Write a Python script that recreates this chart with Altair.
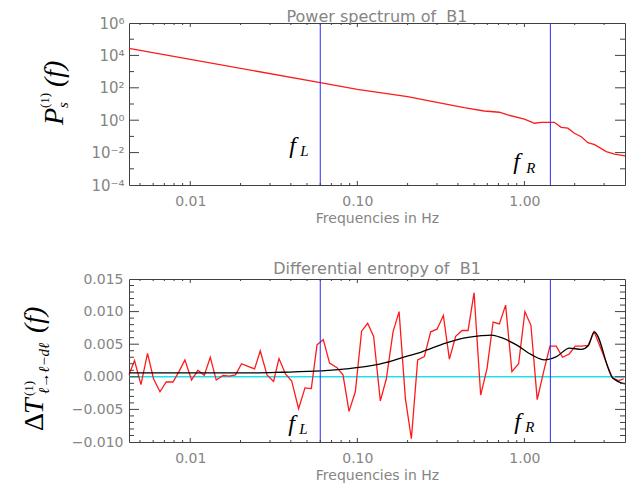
import altair as alt
import pandas as pd

# ---------------- data ----------------
# Top panel: power spectrum of B1
ps_freq = [0.0043, 0.0600, 0.100, 0.200, 0.305, 0.436, 0.575, 0.708, 0.795, 1.00, 1.15,
           1.26, 1.51, 1.66, 1.82, 1.99, 2.19, 2.40, 2.63, 3.09, 3.47, 4.00]
ps_power = [27500, 209, 81, 28.2, 12.0, 5.9, 3.7, 3.1, 2.1, 1.17, 0.65,
            0.74, 0.74, 0.36, 0.32, 0.155, 0.095, 0.041, 0.031, 0.0115, 0.0081, 0.0063]

# Bottom panel: differential entropy (red, raw)
de_freq = [0.00430, 0.00464, 0.00507, 0.00555, 0.00603, 0.00659, 0.00718, 0.00788, 0.00856, 0.00929,
           0.01018, 0.01112, 0.01213, 0.01318, 0.01431, 0.01570, 0.01712, 0.01867, 0.02028, 0.02216,
           0.02427, 0.02625, 0.02879, 0.03153, 0.03397, 0.03721, 0.04043, 0.04451, 0.04861, 0.05304,
           0.05737, 0.06256, 0.06823, 0.07555, 0.08208, 0.08919, 0.09727, 0.1061, 0.1153, 0.1252,
           0.1373, 0.1492, 0.1636, 0.1778, 0.1939, 0.2106, 0.2297, 0.2519, 0.2748, 0.3000,
           0.3273, 0.3556, 0.3879, 0.4236, 0.4601, 0.4997, 0.5473, 0.5977, 0.6496, 0.7084,
           0.7717, 0.8417, 0.9232, 1.007, 1.094, 1.193, 1.309, 1.422, 1.550, 1.693,
           1.855, 2.015, 2.194, 2.400, 2.615, 2.852, 3.098, 3.364, 3.670, 3.93]
de_value = [0.0003, 0.0025, -0.0012, 0.0036, -0.0003, -0.0023, -0.0008, -0.0008, 0.0008, 0.0026,
            -0.0005, 0.0010, 0.0002, 0.0030, -0.0005, 0.0002, 0.0001, 0.0003, 0.0020, 0.0016,
            0.0012, 0.0040, 0.0003, -0.0007, 0.0028, 0.0004, -0.0006, -0.0049, -0.0017, -0.0018,
            0.0049, 0.0057, 0.0021, 0.0014, 0.0003, -0.0053, -0.0023, 0.0070, 0.0082, 0.0062,
            -0.0037, -0.0003, 0.0069, 0.0100, -0.0033, -0.0095, 0.0026, 0.0031, 0.0069, 0.0073,
            0.0094, 0.0027, 0.0062, 0.0071, 0.0071, 0.0129, -0.0028, 0.0013, 0.0084, 0.0081,
            0.0110, 0.0008, 0.0020, 0.0100, 0.0079, -0.0035, 0.0010, 0.0047, 0.0047, 0.0030,
            0.0035, 0.0047, 0.0047, 0.0048, 0.0069, 0.0045, 0.0021, -0.0002, -0.0006, -0.0003]

# Bottom panel: smoothed curve (black)
sm_freq = [0.0043, 0.0116, 0.0216, 0.0351, 0.0609, 0.0859, 0.1213, 0.1492, 0.1835, 0.2416,
           0.3411, 0.4495, 0.5527, 0.6345, 0.7283, 0.8957, 1.101, 1.318, 1.555, 1.860,
           2.194, 2.417, 2.615, 3.364, 4.0]
sm_value = [0.0006, 0.0006, 0.0006, 0.0007, 0.0009, 0.0012, 0.0017, 0.0022, 0.0029, 0.0038,
            0.0052, 0.0060, 0.0063, 0.0064, 0.0060, 0.0049, 0.0034, 0.0026, 0.0031, 0.0044,
            0.0042, 0.0048, 0.0069, -0.0001, -0.0011]

F_L = 0.060
F_R = 1.43
zero_level = [0.0]

x_labels = [0.01, 0.1, 1.0]
x_minor = [0.005, 0.006, 0.007, 0.008, 0.009, 0.02, 0.03, 0.04, 0.05, 0.06, 0.07, 0.08, 0.09,
           0.2, 0.3, 0.4, 0.5, 0.6, 0.7, 0.8, 0.9, 2.0, 3.0]
y1_labels = [1e-4, 1e-2, 1.0, 1e2, 1e4, 1e6]
y1_major = [1e-2, 1.0, 1e2, 1e4]
y1_minor = [1e-3, 1e-1, 1e1, 1e3, 1e5]
y2_labels = [-0.010, -0.005, 0.0, 0.005, 0.010, 0.015]
y2_major = [-0.005, 0.0, 0.005, 0.010]
y2_minor = [-0.009, -0.008, -0.007, -0.006, -0.004, -0.003, -0.002, -0.001,
            0.001, 0.002, 0.003, 0.004, 0.006, 0.007, 0.008, 0.009,
            0.011, 0.012, 0.013, 0.014]

# ---------------- style ----------------
W, H1, H2 = 496, 162, 163
GRAY = "#858585"
FRAME = "#404040"
SANS = "DejaVu Sans"
SERIF = "Liberation Serif"
RED = "#ff1a1a"
BLUE = "#2b2bff"
CYAN = "#22e0e8"

xscale = alt.Scale(type="log", domain=[0.0043, 4.0], nice=False)
y1scale = alt.Scale(type="log", domain=[1e-4, 1e6], nice=False)
y2scale = alt.Scale(type="linear", domain=[-0.010, 0.015], nice=False, zero=False)

x_axis = alt.Axis(values=x_labels, format=".2f", title="Frequencies in Hz", ticks=False,
                  domain=False, grid=False, labelFont=SANS, labelFontSize=14, labelColor=GRAY,
                  labelPadding=9, labelOverlap=False, titleFont=SANS, titleFontSize=14,
                  titleFontWeight="normal", titleColor=GRAY, titlePadding=3)

y1_axis = alt.Axis(values=y1_labels, title=None, ticks=False, domain=False, grid=False,
                   labelExpr="datum.value >= 1e5 ? '10⁶' : datum.value >= 1e3 ? '10⁴' : "
                             "datum.value >= 10 ? '10²' : datum.value >= 0.1 ? '10⁰' : "
                             "datum.value >= 1e-3 ? '10⁻²' : '10⁻⁴'",
                   labelFont=SANS, labelFontSize=15, labelColor=GRAY, labelPadding=5,
                   labelOverlap=False)

y2_axis = alt.Axis(values=y2_labels, format=".3f", title=None, ticks=False, domain=False,
                   grid=False, labelFont=SANS, labelFontSize=14, labelColor=GRAY,
                   labelPadding=6, labelOverlap=False)


def X(field):
    return alt.X(field, scale=xscale, axis=x_axis)


def txt(s, x, y, size, style="italic"):
    return alt.Chart(alt.Data(values=[{}])).mark_text(
        text=s, font=SERIF, fontSize=size, fontStyle=style, angle=270, align="left",
        baseline="alphabetic", color="black").encode(x=alt.value(x), y=alt.value(y))


def flabel(freq, sub, y_f, y_sub, dx_f, dx_sub):
    base = alt.Chart(pd.DataFrame({"f": [freq]}))
    a = base.mark_text(text="f", font=SERIF, fontSize=24, fontStyle="italic", align="left",
                       baseline="alphabetic", dx=dx_f, color="black").encode(
        x=X("f:Q"), y=alt.value(y_f))
    b = base.mark_text(text=sub, font=SERIF, fontSize=15, fontStyle="italic", align="left",
                       baseline="alphabetic", dx=dx_sub, color="black").encode(
        x=X("f:Q"), y=alt.value(y_sub))
    return [a, b]


def x_ticks(vals, H, length):
    df = pd.DataFrame({"f": vals})
    bot = alt.Chart(df).mark_rule(color=FRAME, strokeWidth=1).encode(
        x=X("f:Q"), y=alt.value(H), y2=alt.value(H - length))
    top = alt.Chart(df).mark_rule(color=FRAME, strokeWidth=1).encode(
        x=X("f:Q"), y=alt.value(0), y2=alt.value(length))
    return [bot, top]


def y_ticks(vals, field, yscale, yaxis, length):
    df = pd.DataFrame({field: vals})
    left = alt.Chart(df).mark_rule(color=FRAME, strokeWidth=1).encode(
        y=alt.Y(field + ":Q", scale=yscale, axis=yaxis), x=alt.value(0), x2=alt.value(length))
    right = alt.Chart(df).mark_rule(color=FRAME, strokeWidth=1).encode(
        y=alt.Y(field + ":Q", scale=yscale, axis=yaxis), x=alt.value(W), x2=alt.value(W - length))
    return [left, right]


vlines = alt.Chart(pd.DataFrame({"f": [F_L, F_R]})).mark_rule(color=BLUE, strokeWidth=1).encode(
    x=X("f:Q"))

# ---------------- top panel ----------------
ps_line = alt.Chart(pd.DataFrame({"f": ps_freq, "p": ps_power})).mark_line(
    color=RED, strokeWidth=1.3).encode(
    x=X("f:Q"),
    y=alt.Y("p:Q", scale=y1scale, axis=y1_axis))

top_layers = [ps_line, vlines]
top_layers += flabel(F_L, "L", 130, 133, -31, -20)
top_layers += flabel(F_R, "R", 146, 150, -37, -24)
top_layers += x_ticks(x_labels, H1, 4) + x_ticks(x_minor, H1, 2)
top_layers += y_ticks(y1_major, "p", y1scale, y1_axis, 10) + y_ticks(y1_minor, "p", y1scale, y1_axis, 5)
top_layers += [txt("P", -66, 102, 28), txt("(1)", -80, 85, 13, "normal"),
               txt("s", -61, 85, 15), txt("(f)", -66, 64, 28)]

top = alt.layer(*top_layers).properties(
    width=W, height=H1,
    title=alt.TitleParams(text="Power spectrum of \u00a0B1", font=SANS, fontSize=16,
                          fontWeight="normal", color=GRAY, frame="group", anchor="middle",
                          offset=-9))

# ---------------- bottom panel ----------------
zero_line = alt.Chart(pd.DataFrame({"v": zero_level})).mark_rule(color=CYAN, strokeWidth=1.5).encode(
    y=alt.Y("v:Q", scale=y2scale, axis=y2_axis))
de_line = alt.Chart(pd.DataFrame({"f": de_freq, "v": de_value})).mark_line(
    color=RED, strokeWidth=1.3).encode(
    x=X("f:Q"),
    y=alt.Y("v:Q", scale=y2scale, axis=y2_axis))
sm_line = alt.Chart(pd.DataFrame({"f": sm_freq, "v": sm_value})).mark_line(
    color="black", strokeWidth=1.3, interpolate="monotone").encode(
    x=X("f:Q"),
    y=alt.Y("v:Q", scale=y2scale, axis=y2_axis))

bot_layers = [zero_line, de_line, sm_line, vlines]
bot_layers += flabel(F_L, "L", 152, 155, -32, -21)
bot_layers += flabel(F_R, "R", 150, 153, -36, -25)
bot_layers += x_ticks(x_labels, H2, 4) + x_ticks(x_minor, H2, 2)
bot_layers += y_ticks(y2_major, "v", y2scale, y2_axis, 10) + y_ticks(y2_minor, "v", y2scale, y2_axis, 5)
bot_layers += [txt("Δ", -86, 152, 28, "normal"), txt("T", -86, 135, 28),
               txt("(1)", -96, 117, 13, "normal"), txt("ℓ→ℓ−dℓ", -80, 115, 15),
               txt("(f)", -86, 54, 28)]

bottom = alt.layer(*bot_layers).properties(
    width=W, height=H2,
    title=alt.TitleParams(text="Differential entropy of \u00a0B1", font=SANS, fontSize=16,
                          fontWeight="normal", color=GRAY, frame="group", anchor="middle",
                          offset=-5))

chart = alt.vconcat(top, bottom, spacing=34).properties(
    padding={"left": 12, "top": 0, "right": 0, "bottom": 0}
).configure_view(stroke=FRAME, strokeWidth=1)

chart.save("out.html", embed_options={"renderer": "svg", "actions": False})
